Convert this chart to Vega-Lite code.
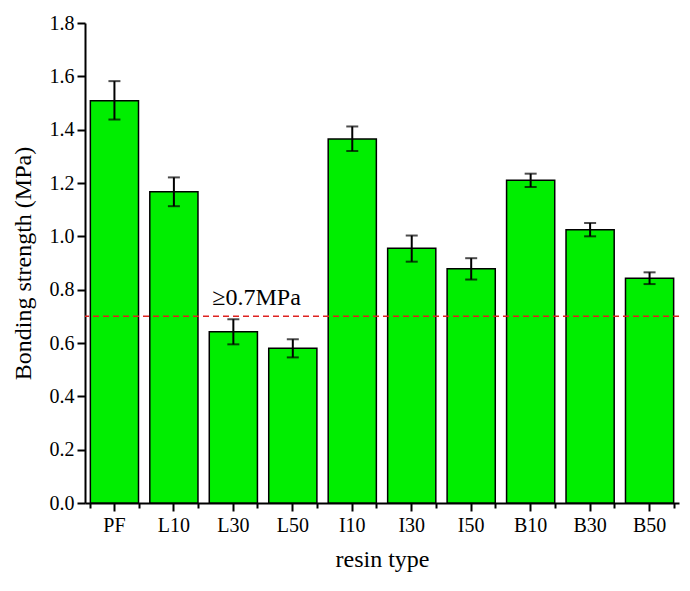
{
  "$schema": "https://vega.github.io/schema/vega-lite/v6.json",
  "width": 594,
  "height": 480,
  "autosize": {"type": "none"},
  "padding": {"left": 85, "top": 23, "right": 11, "bottom": 88},
  "background": "white",
  "config": {
    "font": "Liberation Serif",
    "view": {"stroke": null},
    "axis": {"grid": false, "domainColor": "black", "tickColor": "black", "labelColor": "black", "titleColor": "black", "titleFontWeight": "normal", "labelFont": "Liberation Serif", "titleFont": "Liberation Serif"}
  },
  "datasets": {
    "bars": [
      {"resin": "PF", "strength": 1.508, "lo": 1.438, "hi": 1.582},
      {"resin": "L10", "strength": 1.167, "lo": 1.113, "hi": 1.221},
      {"resin": "L30", "strength": 0.642, "lo": 0.595, "hi": 0.689},
      {"resin": "L50", "strength": 0.580, "lo": 0.546, "hi": 0.614},
      {"resin": "I10", "strength": 1.365, "lo": 1.320, "hi": 1.412},
      {"resin": "I30", "strength": 0.955, "lo": 0.905, "hi": 1.003},
      {"resin": "I50", "strength": 0.878, "lo": 0.838, "hi": 0.918},
      {"resin": "B10", "strength": 1.210, "lo": 1.185, "hi": 1.235},
      {"resin": "B30", "strength": 1.025, "lo": 1.000, "hi": 1.050},
      {"resin": "B50", "strength": 0.843, "lo": 0.821, "hi": 0.865}
    ],
    "threshold": [{"y": 0.7, "label": "≥0.7MPa", "x": "L30"}]
  },
  "layer": [
    {
      "data": {"name": "bars"},
      "mark": {"type": "bar", "color": "#00EE00", "stroke": "black", "strokeWidth": 1.5},
      "encoding": {
        "x": {
          "field": "resin", "type": "nominal", "sort": null,
          "scale": {"paddingInner": 0.19, "paddingOuter": 0.09},
          "axis": {"title": "resin type", "labelAngle": 0, "labelFontSize": 20, "titleFontSize": 24, "tickSize": 8, "tickWidth": 2, "domainWidth": 2, "labelPadding": 4, "titlePadding": 12}
        },
        "y": {
          "field": "strength", "type": "quantitative",
          "scale": {"domain": [0, 1.8], "nice": false},
          "axis": {
            "title": "Bonding strength (MPa)",
            "values": [0, 0.1, 0.2, 0.3, 0.4, 0.5, 0.6, 0.7, 0.8, 0.9, 1.0, 1.1, 1.2, 1.3, 1.4, 1.5, 1.6, 1.7, 1.8],
            "labelExpr": "round(datum.value*10) % 2 == 0 ? format(datum.value, '.1f') : ''",
            "tickSize": {"condition": {"test": "round(datum.value*10) % 2 == 1", "value": 5}, "value": 8},
            "tickWidth": 2, "domainWidth": 2,
            "labelFontSize": 20, "titleFontSize": 24, "labelPadding": 3, "titlePadding": 14
          }
        }
      }
    },
    {
      "data": {"name": "bars"},
      "mark": {"type": "rule", "color": "black", "strokeWidth": 2},
      "encoding": {
        "x": {"field": "resin", "type": "nominal", "sort": null, "axis": null},
        "y": {"field": "lo", "type": "quantitative"},
        "y2": {"field": "hi"}
      }
    },
    {
      "data": {"name": "bars"},
      "mark": {"type": "tick", "color": "black", "orient": "horizontal", "size": 12, "thickness": 2},
      "encoding": {
        "x": {"field": "resin", "type": "nominal", "sort": null,
          "axis": {"orient": "bottom", "labels": false, "title": null, "domain": false, "tickBand": "extent", "tickSize": 5, "tickWidth": 2, "tickColor": "black"}},
        "y": {"field": "hi", "type": "quantitative"}
      }
    },
    {
      "data": {"name": "bars"},
      "mark": {"type": "tick", "color": "black", "orient": "horizontal", "size": 12, "thickness": 2},
      "encoding": {
        "x": {"field": "resin", "type": "nominal", "sort": null, "axis": null},
        "y": {"field": "lo", "type": "quantitative"}
      }
    },
    {
      "data": {"name": "threshold"},
      "mark": {"type": "rule", "color": "#E02020", "strokeDash": [6, 4], "strokeWidth": 1.5},
      "encoding": {"y": {"field": "y", "type": "quantitative"}}
    },
    {
      "data": {"name": "threshold"},
      "mark": {"type": "text", "align": "left", "baseline": "bottom", "dx": -21, "dy": -6, "fontSize": 24, "font": "Liberation Serif", "color": "black"},
      "encoding": {
        "x": {"field": "x", "type": "nominal", "sort": null, "axis": null},
        "y": {"field": "y", "type": "quantitative"},
        "text": {"field": "label"}
      }
    }
  ],
  "resolve": {"axis": {"x": "independent"}}
}
